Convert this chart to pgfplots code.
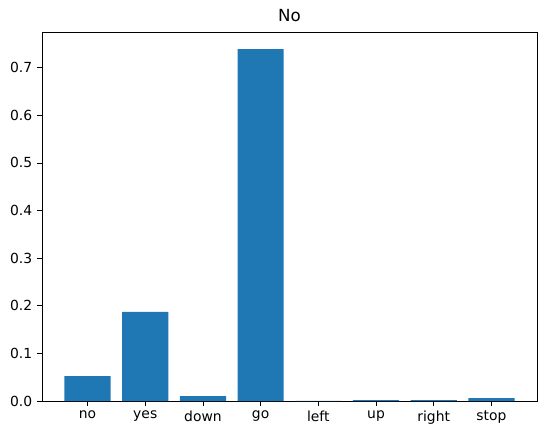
\documentclass[border=0pt]{standalone}
\usepackage{pgfplots}
\pgfplotsset{compat=1.18}
\usepackage{fontspec}
\setmainfont{DejaVu Sans}
\definecolor{mplblue}{HTML}{1F77B4}
\begin{document}
\begin{tikzpicture}
\begin{axis}[
  scale only axis,
  width=356.4pt, height=265.7pt,
  xmin=-0.79, xmax=7.79,
  ymin=0, ymax=0.775,
  xtick={0,...,7},
  xticklabels={no,yes,down,go,left,up,right,stop},
  ytick={0,0.1,0.2,0.3,0.4,0.5,0.6,0.7},
  yticklabel style={/pgf/number format/.cd,fixed,fixed zerofill,precision=1},
  /pgf/number format/assume math mode=true,
  tick align=outside,
  tick pos=left,
  major tick length=3.5pt,
  tick style={black, line width=0.6pt},
  axis line style={line width=0.6pt},
  ticklabel style={font=\fontsize{10}{12}\selectfont},
  title={No},
  title style={font=\fontsize{12}{14}\selectfont, yshift=-2pt},
  clip=false,
]
\addplot[ybar, bar width=0.8, fill=mplblue, draw=none, bar shift=0pt]
  coordinates {(0,0.0525) (1,0.187) (2,0.0105) (3,0.739) (4,0.0003) (5,0.002) (6,0.002) (7,0.0063)};
\path (rel axis cs:-0.0848,-0.0921) rectangle (rel axis cs:1.0202,1.0867);
\end{axis}
\end{tikzpicture}
\end{document}
